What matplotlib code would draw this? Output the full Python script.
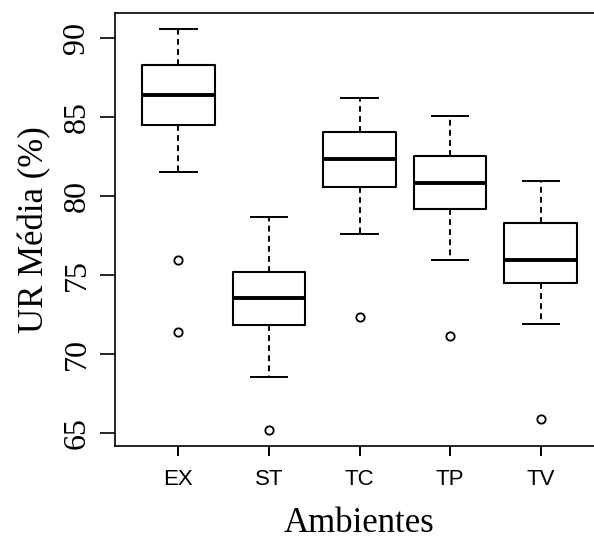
import matplotlib
matplotlib.use("Agg")
import matplotlib.pyplot as plt

# valores (UR média, %)
ambientes = ["EX", "ST", "TC", "TP", "TV"]
whisker_inf = [81.5, 68.55, 77.6, 75.95, 71.9]
q1 = [84.45, 71.8, 80.55, 79.15, 74.5]
mediana = [86.4, 73.55, 82.3, 80.8, 75.95]
q3 = [88.25, 75.2, 84.05, 82.5, 78.3]
whisker_sup = [90.55, 78.65, 86.2, 85.05, 80.95]
outliers = [[75.9, 71.35], [65.2], [72.3], [71.15], [65.9]]

stats = []
for i, nome in enumerate(ambientes):
    stats.append({
        "label": nome,
        "whislo": whisker_inf[i],
        "q1": q1[i],
        "med": mediana[i],
        "q3": q3[i],
        "whishi": whisker_sup[i],
        "fliers": outliers[i],
    })

fig = plt.figure(figsize=(5.94, 5.40), dpi=100)
# o gráfico original está cortado à direita
ax = fig.add_axes([115 / 594, 94 / 540, (604 - 115) / 594, (446 - 13) / 540])

ax.bxp(
    stats,
    positions=range(1, 6),
    widths=0.8,
    showfliers=True,
    boxprops=dict(color="black", linewidth=1.5),
    medianprops=dict(color="black", linewidth=2.8, solid_capstyle="butt"),
    whiskerprops=dict(color="black", linewidth=1.4, linestyle=(0, (3, 2.2))),
    capprops=dict(color="black", linewidth=1.4),
    flierprops=dict(marker="o", markersize=6, markerfacecolor="none",
                    markeredgecolor="black", markeredgewidth=1.3),
)

ax.set_xlim(0.3, 5.7)
ax.set_ylim(64.16, 91.56)

ax.set_yticks([65, 70, 75, 80, 85, 90])
ax.set_yticklabels(["65", "70", "75", "80", "85", "90"], rotation=90,
                   va="center", family="Liberation Serif", fontsize=23)
ax.set_xticks(range(1, 6))
ax.set_xticklabels(ambientes, family="Liberation Sans", fontsize=16)

ax.tick_params(axis="y", length=11, width=1.2, pad=6)
ax.tick_params(axis="x", length=7.5, width=1.4, pad=9)

for s in ax.spines.values():
    s.set_linewidth(1.2)

ax.set_ylabel("UR Média (%)", family="Liberation Serif", fontsize=25, labelpad=8)
ax.set_xlabel("Ambientes", family="Liberation Serif", fontsize=25, labelpad=12)

fig.savefig("out.png", dpi=100)
